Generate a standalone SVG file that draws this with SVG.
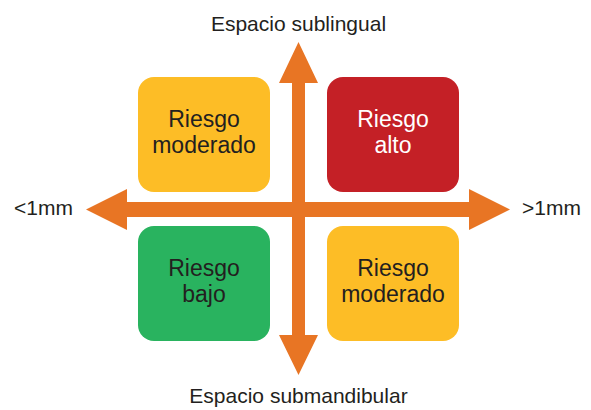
<svg xmlns="http://www.w3.org/2000/svg" width="591" height="410" viewBox="0 0 591 410">
<style>
.box text{font-family:"Liberation Sans",Arial,sans-serif;font-size:23px;text-anchor:middle;fill:#231f20}
.lbl{font-family:"Liberation Sans",Arial,sans-serif;font-size:21px;fill:#231f20}
.arr{fill:#e87524}
</style>
<rect width="591" height="410" fill="#ffffff"/>
<g id="q-tl" class="box"><rect x="138" y="77" width="132" height="115" rx="16" fill="#fdbd26"/><text x="204" y="127">Riesgo</text><text x="204" y="153">moderado</text></g>
<g id="q-tr" class="box"><rect x="327" y="77" width="132" height="115" rx="16" fill="#c42026"/><text x="393" y="127" style="fill:#ffffff">Riesgo</text><text x="393" y="153" style="fill:#ffffff">alto</text></g>
<g id="q-bl" class="box"><rect x="138" y="226" width="132" height="115" rx="16" fill="#29b35f"/><text x="204" y="276">Riesgo</text><text x="204" y="302">bajo</text></g>
<g id="q-br" class="box"><rect x="327" y="226" width="132" height="115" rx="16" fill="#fdbd26"/><text x="393" y="276">Riesgo</text><text x="393" y="302">moderado</text></g>
<g id="connectors">
<polygon class="arr" points="86,209.5 127,189 127,202 469,202 469,189 510,209.5 469,230 469,217 127,217 127,230"/>
<polygon class="arr" points="298.5,42 318,83 305,83 305,335 318,335 298.5,375 279,335 292,335 292,83 279,83"/>
</g>
<text class="lbl" x="298.5" y="31" text-anchor="middle">Espacio sublingual</text>
<text class="lbl" x="298.5" y="403" text-anchor="middle">Espacio submandibular</text>
<text class="lbl" x="14" y="215">&lt;1mm</text>
<text class="lbl" x="522" y="215">&gt;1mm</text>
</svg>
